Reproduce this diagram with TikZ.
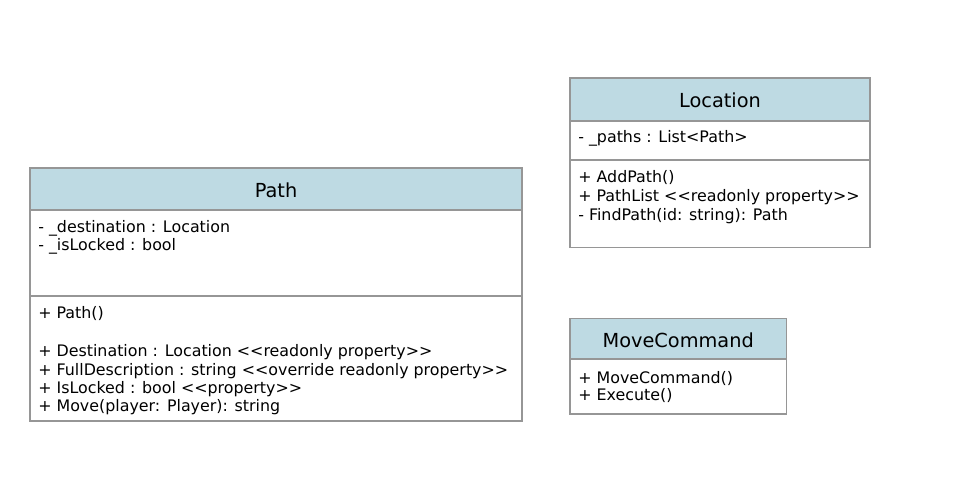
\documentclass[tikz,border=0pt]{standalone}
\usepackage{fontspec}
\setmainfont{DejaVu Sans}[Ligatures=TeXOff]
\definecolor{hdrblue}{RGB}{190,218,227}
\definecolor{boxgrey}{RGB}{150,150,150}
\tikzset{
  hdr/.style={draw=boxgrey, line width=1.2pt, fill=hdrblue},
  sect/.style={draw=boxgrey, line width=1.2pt, fill=white},
  cname/.style={anchor=base, inner sep=0pt, font=\fontsize{14.5pt}{17pt}\selectfont},
  member/.style={anchor=base west, inner sep=0pt, font=\fontsize{11.9pt}{14pt}\selectfont}
}
\begin{document}
\begin{tikzpicture}[x=0.75pt, y=-0.75pt]
\useasboundingbox (0,0) rectangle (966,480);
% Path
\draw[hdr] (30,168) rectangle (522,210);
\draw[sect] (30,210) rectangle (522,296);
\draw[sect] (30,296) rectangle (522,421);
\node[cname] (pathname) at (276,197.3) {Path};
\node[member] (pa1) at (38,232.7) {- \_destination : Location};
\node[member] (pa2) at (38,250.7) {- \_isLocked : bool};
\node[member] (pm1) at (38,318.3) {+ Path()};
\node[member] (pm2) at (38,356.7) {+ Destination : Location <<readonly property>>};
\node[member] (pm3) at (38,375) {+ FullDescription : string <<override readonly property>>};
\node[member] (pm4) at (38,393.3) {+ IsLocked : bool <<property>>};
\node[member] (pm5) at (38,411.7) {+ Move(player: Player): string};
% Location
\draw[hdr] (570,78) rectangle (870,121);
\draw[sect] (570,121) rectangle (870,160);
\draw[sect] (570,160) rectangle (870,247.5);
\node[cname] (locname) at (720,107.3) {Location};
\node[member] (la1) at (578,142.7) {- \_paths : List<Path>};
\node[member] (lm1) at (578,182.7) {+ AddPath()};
\node[member] (lm2) at (578,201.7) {+ PathList <<readonly property>>};
\node[member] (lm3) at (578,220.3) {- FindPath(id: string): Path};
% MoveCommand
\draw[hdr] (570,318.5) rectangle (786.5,359);
\draw[sect] (570,359) rectangle (786.5,414);
\node[cname] (movename) at (678.2,347.3) {MoveCommand};
\node[member] (mm1) at (578,383.3) {+ MoveCommand()};
\node[member] (mm2) at (578,400.7) {+ Execute()};
\end{tikzpicture}
\end{document}
